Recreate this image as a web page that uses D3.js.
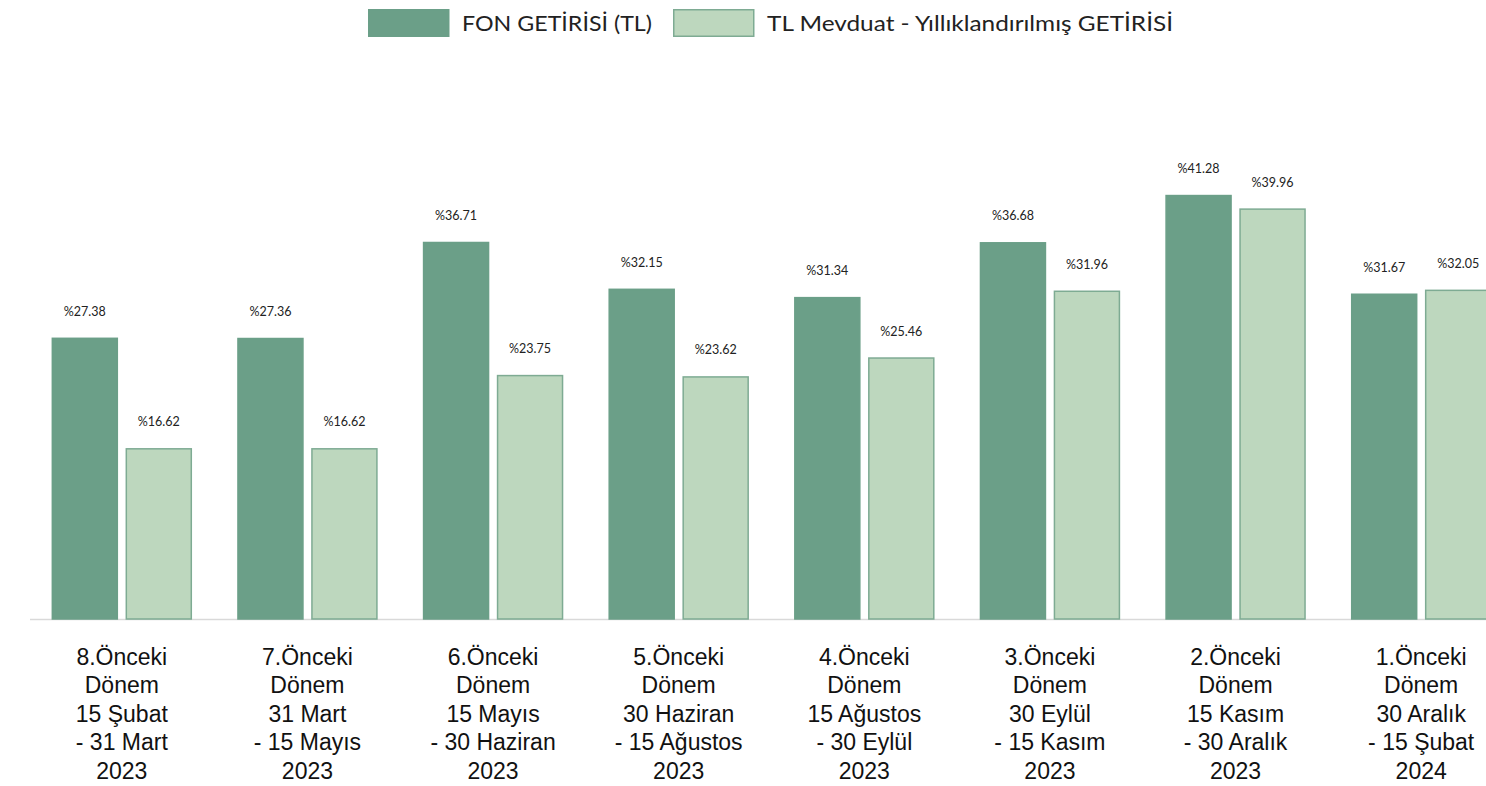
<!DOCTYPE html>
<html>
<head>
<meta charset="utf-8">
<script src="https://cdn.jsdelivr.net/npm/d3@7"></script>
<style>
  html, body { margin: 0; padding: 0; background: #fff; overflow: hidden; }
</style>
</head>
<body>
<svg id="chart"></svg>
<script>
const periods = [
  ["8.Önceki", "Dönem", "15 Şubat", "- 31 Mart", "2023"],
  ["7.Önceki", "Dönem", "31 Mart", "- 15 Mayıs", "2023"],
  ["6.Önceki", "Dönem", "15 Mayıs", "- 30 Haziran", "2023"],
  ["5.Önceki", "Dönem", "30 Haziran", "- 15 Ağustos", "2023"],
  ["4.Önceki", "Dönem", "15 Ağustos", "- 30 Eylül", "2023"],
  ["3.Önceki", "Dönem", "30 Eylül", "- 15 Kasım", "2023"],
  ["2.Önceki", "Dönem", "15 Kasım", "- 30 Aralık", "2023"],
  ["1.Önceki", "Dönem", "30 Aralık", "- 15 Şubat", "2024"]
];
const seriesNames = ["FON GETİRİSİ (TL)", "TL Mevduat - Yıllıklandırılmış GETİRİSİ"];
const fonValues = [27.38, 27.36, 36.71, 32.15, 31.34, 36.68, 41.28, 31.67];
const mevduatValues = [16.62, 16.62, 23.75, 23.62, 25.46, 31.96, 39.96, 32.05];

const width = 1486, height = 786;
const colors = ["#6b9f88", "#bdd7be"];
const strokes = ["#6b9f88", "#7eab93"];

const svg = d3.select("#chart")
    .attr("width", width)
    .attr("height", height)
    .attr("viewBox", [0, 0, width, height]);

const idx = d3.range(periods.length);
const x0 = d3.scaleBand(idx, [29, 1514]).paddingInner(0.246).paddingOuter(0.123);
const x1 = d3.scaleBand([0, 1], [0, x0.bandwidth()]).paddingInner(0.108).paddingOuter(0);
const y = d3.scaleLinear([0, 50], [619, 105.5]);

const data = idx.map(i => [fonValues[i], mevduatValues[i]]);

// baseline
svg.append("line")
    .attr("x1", 30).attr("x2", width)
    .attr("y1", y(0) + 0.5).attr("y2", y(0) + 0.5)
    .attr("stroke", "#d9d9d9").attr("stroke-width", 1.5);

const groups = svg.append("g")
  .selectAll("g")
  .data(data)
  .join("g")
    .attr("transform", (d, i) => `translate(${x0(i)},0)`);

groups.selectAll("rect")
  .data(d => d)
  .join("rect")
    .attr("x", (d, j) => x1(j) + 0.5)
    .attr("y", d => y(d) + 0.5)
    .attr("width", x1.bandwidth() - 1)
    .attr("height", d => y(0) - y(d) - 0.5)
    .attr("fill", (d, j) => colors[j])
    .attr("stroke", (d, j) => strokes[j])
    .attr("stroke-width", 1.5);

groups.selectAll("text.val")
  .data(d => d)
  .join("text")
    .attr("class", "val")
    .attr("x", (d, j) => x1(j) + x1.bandwidth() / 2)
    .attr("y", d => y(d) - 22)
    .attr("text-anchor", "middle")
    .style("font-family", "Lato, sans-serif")
    .style("font-size", "12.5px")
    .attr("fill", "#222")
    .text(d => "%" + d.toFixed(2));

// x labels
const xl = svg.append("g")
    .attr("fill", "#111")
    .attr("text-anchor", "middle");
periods.forEach((lines, i) => {
  const t = xl.append("text")
      .style("font-family", "'Liberation Sans', Arial, sans-serif")
      .style("font-size", "23px")
      .attr("x", x0(i) + x0.bandwidth() / 2)
      .attr("y", 665);
  lines.forEach((s, k) => {
    t.append("tspan")
        .attr("x", x0(i) + x0.bandwidth() / 2)
        .attr("dy", k === 0 ? 0 : 28.4)
        .text(s);
  });
});

// legend
const legend = svg.append("g").attr("fill", "#222");
const legendX = [368, 673];
const legendW = [190, 406];
seriesNames.forEach((name, j) => {
  legend.append("rect")
      .attr("x", legendX[j] + 0.75).attr("y", 9.75)
      .attr("width", 80).attr("height", 26.5)
      .attr("fill", colors[j])
      .attr("stroke", strokes[j]).attr("stroke-width", 1.5);
  legend.append("text")
      .attr("x", legendX[j] + 94)
      .attr("y", 31)
      .style("font-family", "Lato, sans-serif")
      .style("font-size", "22px")
      .attr("textLength", legendW[j])
      .attr("lengthAdjust", "spacingAndGlyphs")
      .text(name);
});
</script>
</body>
</html>
